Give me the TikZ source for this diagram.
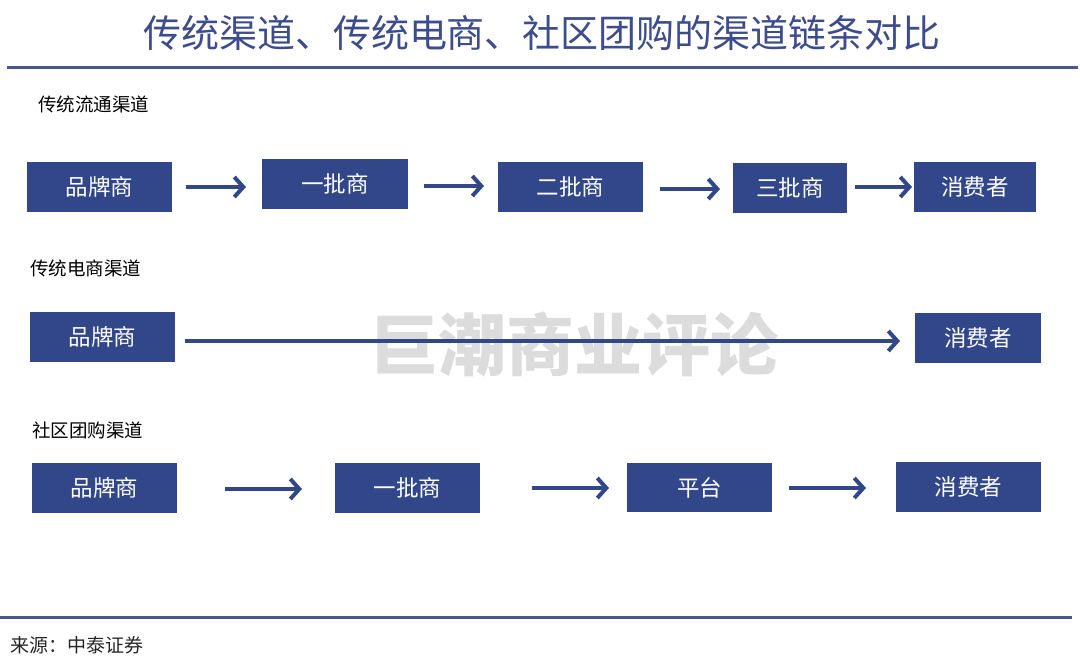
\documentclass[tikz,border=0pt]{standalone}
\usepackage{fontspec}
\setmainfont{Noto Sans CJK SC}
\newfontfamily\cjk{Noto Sans CJK SC}
\usetikzlibrary{arrows.meta}
\definecolor{boxblue}{HTML}{31478A}
\definecolor{titleblue}{HTML}{3D4C8C}
\definecolor{rule}{HTML}{4A5890}
\definecolor{wm}{HTML}{DCDCDC}
\tikzset{
  box/.style={fill=boxblue, text=white, inner sep=0pt, font=\cjk\fontsize{22.5}{22.5}\selectfont, anchor=north west},
  arr/.style={draw=boxblue, line width=4pt, -{Straight Barb[length=9pt,width=20pt,line width=4pt]}},
  sect/.style={anchor=west, font=\cjk\fontsize{18.5}{18.5}\selectfont, text=black, inner sep=0pt},
}
\begin{document}
\begin{tikzpicture}[x=1pt,y=-1pt]
\useasboundingbox (0,0) rectangle (1080,672);
% title
\node[font=\cjk\fontsize{38}{38}\selectfont, text=titleblue, inner sep=0pt] (title) at (542,33) {传统渠道、传统电商、社区团购的渠道链条对比};
\coordinate (r1a) at (7,67); \coordinate (r1b) at (1078,67);
\draw[rule, line width=3pt] (r1a) -- (r1b);
\coordinate (r2a) at (0,617); \coordinate (r2b) at (1072,617);
\draw[rule, line width=3pt] (r2a) -- (r2b);
\node[anchor=west, font=\cjk\fontsize{19}{19}\selectfont, text=black!85, inner sep=0pt] (src) at (10,645) {来源：中泰证券};
% section labels
\node[sect] (s1) at (38,104) {传统流通渠道};
\node[sect] (s2) at (30,268) {传统电商渠道};
\node[sect] (s3) at (32,430) {社区团购渠道};
% watermark
\node[font=\cjk\bfseries\fontsize{68}{68}\selectfont, text=wm, inner sep=0pt] (wmk) at (574,345) {巨潮商业评论};
% row 1
\node[box, minimum width=145pt, minimum height=50pt] (a1) at (27,162) {品牌商};
\node[box, minimum width=146pt, minimum height=50pt] (a2) at (262,159) {一批商};
\node[box, minimum width=145pt, minimum height=50pt] (a3) at (498,162) {二批商};
\node[box, minimum width=114pt, minimum height=50pt] (a4) at (733,163) {三批商};
\node[box, minimum width=122pt, minimum height=50pt] (a5) at (914,162) {消费者};
\coordinate (p1) at (0,187); \coordinate (p2) at (0,186); \coordinate (p3) at (0,189);
\draw[arr, shorten <=14pt, shorten >=16pt] (a1.east |- p1) -- (a2.west |- p1);
\draw[arr, shorten <=16pt, shorten >=14pt] (a2.east |- p2) -- (a3.west |- p2);
\draw[arr, shorten <=17pt, shorten >=13pt] (a3.east |- p3) -- (a4.west |- p3);
\draw[arr, shorten <=8pt, shorten >=2pt] (a4.east |- p1) -- (a5.west |- p1);
% row 2
\node[box, minimum width=145pt, minimum height=50pt] (b1) at (30,312) {品牌商};
\node[box, minimum width=126pt, minimum height=50pt] (b2) at (915,313) {消费者};
\coordinate (q1) at (0,341);
\draw[arr, shorten <=10pt, shorten >=15pt] (b1.east |- q1) -- (b2.west |- q1);
% row 3
\node[box, minimum width=145pt, minimum height=50pt] (c1) at (32,463) {品牌商};
\node[box, minimum width=145pt, minimum height=50pt] (c2) at (335,463) {一批商};
\node[box, minimum width=145pt, minimum height=49pt] (c3) at (627,463) {平台};
\node[box, minimum width=145pt, minimum height=50pt] (c4) at (896,462) {消费者};
\coordinate (t1) at (0,489); \coordinate (t2) at (0,488);
\draw[arr, shorten <=48pt, shorten >=33pt] (c1.east |- t1) -- (c2.west |- t1);
\draw[arr, shorten <=52pt, shorten >=18pt] (c2.east |- t2) -- (c3.west |- t2);
\draw[arr, shorten <=17pt, shorten >=30pt] (c3.east |- t2) -- (c4.west |- t2);
\end{tikzpicture}
\end{document}
